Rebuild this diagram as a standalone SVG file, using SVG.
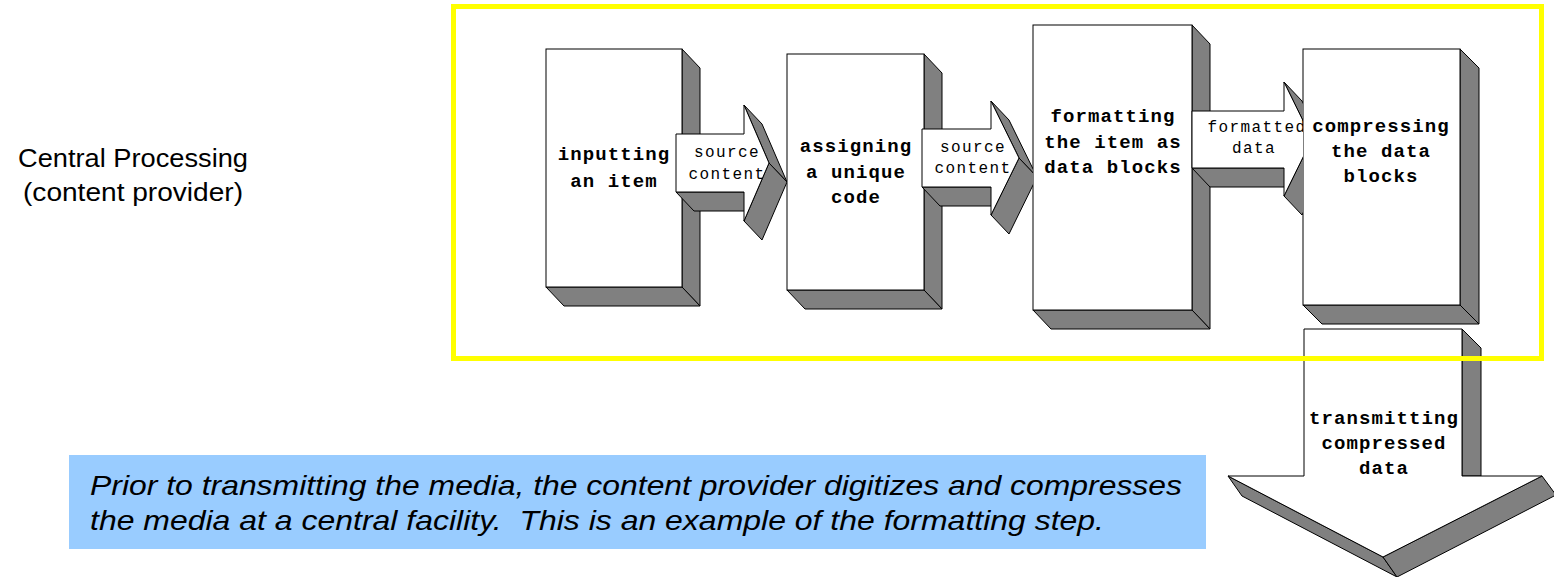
<svg xmlns="http://www.w3.org/2000/svg" width="1554" height="577" viewBox="0 0 1554 577">
<style>
.f{fill:#ffffff;stroke:#000;stroke-width:1}
.s{fill:#808080;stroke:#000;stroke-width:1}
.bt{font-family:"Liberation Mono","DejaVu Sans Mono",monospace;font-weight:bold;font-size:19px;letter-spacing:1.1px;text-anchor:middle;fill:#000}
.at{font-family:"Liberation Mono","DejaVu Sans Mono",monospace;font-size:16px;letter-spacing:1.4px;text-anchor:middle;fill:#000}
.tt{font-family:"Liberation Sans",Arial,sans-serif;font-size:25px;fill:#000}
.nt{font-family:"Liberation Sans",Arial,sans-serif;font-style:italic;font-size:28px;fill:#000}
</style>
<defs>
<clipPath id="c1"><rect x="0" y="0" width="787" height="577"/></clipPath>
<clipPath id="c2"><rect x="0" y="0" width="1033" height="577"/></clipPath>
<clipPath id="c3"><rect x="0" y="0" width="1303" height="577"/></clipPath>
</defs>
<rect x="0" y="0" width="1554" height="577" fill="#ffffff"/>

<g id="title">
<text class="tt" x="18" y="167" textLength="230" lengthAdjust="spacingAndGlyphs">Central Processing</text>
<text class="tt" x="23" y="201" textLength="220" lengthAdjust="spacingAndGlyphs">(content provider)</text>
</g>

<g id="node-inputting">
<polygon class="s" points="682,49 700,68 700,306 682,287"/>
<polygon class="s" points="546,287 682,287 700,306 564,306"/>
<rect class="f" x="546" y="49" width="136" height="238"/>
<text class="bt" x="614" y="160">inputting</text>
<text class="bt" x="614" y="187">an item</text>
</g>

<g id="node-assigning">
<polygon class="s" points="924,54 942,73 942,309 924,290"/>
<polygon class="s" points="787,290 924,290 942,309 805,309"/>
<rect class="f" x="787" y="54" width="137" height="236"/>
<text class="bt" x="856" y="152">assigning</text>
<text class="bt" x="856" y="178">a unique</text>
<text class="bt" x="856" y="203">code</text>
</g>

<g id="node-formatting">
<polygon class="s" points="1192,25 1210,44 1210,329 1192,310"/>
<polygon class="s" points="1033,310 1192,310 1210,329 1051,329"/>
<rect class="f" x="1033" y="25" width="159" height="285"/>
<text class="bt" x="1113" y="122">formatting</text>
<text class="bt" x="1113" y="148">the item as</text>
<text class="bt" x="1113" y="173">data blocks</text>
</g>

<g id="node-compressing">
<polygon class="s" points="1460,49 1479,68 1479,324 1460,305"/>
<polygon class="s" points="1303,305 1460,305 1479,324 1322,324"/>
<rect class="f" x="1303" y="49" width="157" height="256"/>
<text class="bt" x="1381" y="132">compressing</text>
<text class="bt" x="1381" y="157">the data</text>
<text class="bt" x="1381" y="182">blocks</text>
</g>

<g id="connectors">
<g id="arrow-1" clip-path="url(#c1)">
<polygon class="s" points="676,192 744,192 762,211 694,211"/>
<polygon class="s" points="744,105 769,163 787,182 762,124"/>
<polygon class="s" points="769,163 744,221 762,240 787,182"/>
<polygon class="f" points="676,134 744,134 744,105 769,163 744,221 744,192 676,192"/>
<text class="at" x="727" y="157">source</text>
<text class="at" x="727" y="179">content</text>
</g>
<g id="arrow-2" clip-path="url(#c2)">
<polygon class="s" points="922,187 991,187 1009,206 940,206"/>
<polygon class="s" points="991,101 1019,158 1037,177 1009,120"/>
<polygon class="s" points="1019,158 991,215 1009,234 1037,177"/>
<polygon class="f" points="922,129 991,129 991,101 1019,158 991,215 991,187 922,187"/>
<text class="at" x="973" y="152">source</text>
<text class="at" x="973" y="173">content</text>
</g>
<g id="arrow-3" clip-path="url(#c3)">
<polygon class="s" points="1192,168 1284,168 1302,187 1210,187"/>
<polygon class="s" points="1284,82 1312,139 1330,158 1302,101"/>
<polygon class="s" points="1312,139 1284,196 1302,215 1330,158"/>
<polygon class="f" points="1192,111 1284,111 1284,82 1312,139 1284,196 1284,168 1192,168"/>
<text class="at" x="1257" y="132">formatted</text>
<text class="at" x="1254" y="153">data</text>
</g>
</g>

<g id="node-transmitting">
<polygon class="s" points="1462,329 1481,348 1481,476 1462,476"/>
<polygon class="s" points="1228,476 1383,557 1397,577 1242,496"/>
<polygon class="s" points="1383,557 1542,476 1556,495 1397,577"/>
<polygon class="f" points="1304,329 1462,329 1462,476 1542,476 1383,557 1228,476 1304,476"/>
<text class="bt" x="1384" y="424">transmitting</text>
<text class="bt" x="1384" y="449">compressed</text>
<text class="bt" x="1384" y="474">data</text>
</g>

<g id="frame">
<rect x="453.5" y="6.5" width="1088" height="352" fill="none" stroke="#ffff00" stroke-width="5"/>
</g>

<g id="note">
<rect x="69" y="455" width="1137" height="94" fill="#99ccff"/>
<text class="nt" x="90" y="495" textLength="1092" lengthAdjust="spacingAndGlyphs">Prior to transmitting the media, the content provider digitizes and compresses</text>
<text class="nt" x="90" y="530" textLength="1014" lengthAdjust="spacingAndGlyphs" xml:space="preserve">the media at a central facility.  This is an example of the formatting step.</text>
</g>
</svg>
